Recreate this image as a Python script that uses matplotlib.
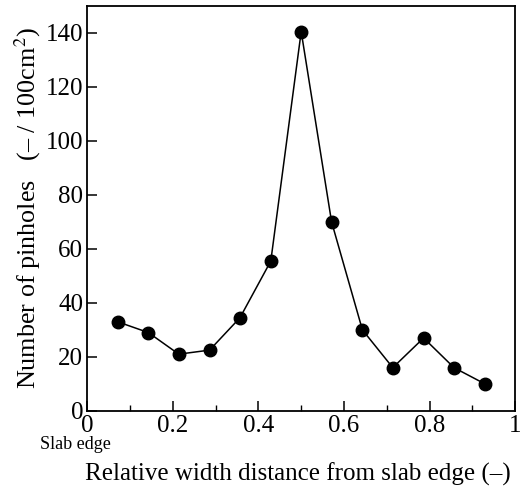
import matplotlib.pyplot as plt
from matplotlib.ticker import MultipleLocator

# positions across the slab width (relative) and pinhole counts
width_pos = [0.071, 0.143, 0.214, 0.286, 0.357, 0.429, 0.500,
             0.571, 0.643, 0.714, 0.786, 0.857, 0.929]
pinholes = [33, 29, 21, 22.5, 34.5, 55.5, 140.5,
            70, 30, 16, 27, 16, 10]

plt.rcParams['font.family'] = ['Liberation Serif', 'DejaVu Serif']
plt.rcParams['mathtext.fontset'] = 'stix'

fig = plt.figure(figsize=(5.22, 4.95), dpi=100)
ax = fig.add_axes([0.167, 0.170, 0.820, 0.818])

ax.plot(width_pos, pinholes, color='black', linewidth=1.1,
        marker='o', markersize=9, markerfacecolor='black')

ax.set_xlim(0, 1)
ax.set_ylim(0, 150)
ax.xaxis.set_major_locator(MultipleLocator(0.2))
ax.xaxis.set_minor_locator(MultipleLocator(0.1))
ax.yaxis.set_major_locator(MultipleLocator(20))
ax.set_xticks([0, 0.2, 0.4, 0.6, 0.8, 1.0])
ax.set_xticklabels(['0', '0.2', '0.4', '0.6', '0.8', '1'])
ax.tick_params(which='major', direction='in', length=7, width=1.1, labelsize=18, pad=3)
ax.tick_params(which='minor', direction='in', length=4, width=1.0)
ax.tick_params(top=False, right=False)
for s in ax.spines.values():
    s.set_linewidth(1.3)

ax.set_ylabel('Number of pinholes   (– / 100cm$^2$)', fontsize=18.8, labelpad=2)
fig.text(0.570, 0.042, 'Relative width distance from slab edge (–)',
         ha='center', va='center', fontsize=18)
fig.text(0.145, 0.103, 'Slab edge', ha='center', va='center', fontsize=13)

fig.savefig('out.png', dpi=100)
